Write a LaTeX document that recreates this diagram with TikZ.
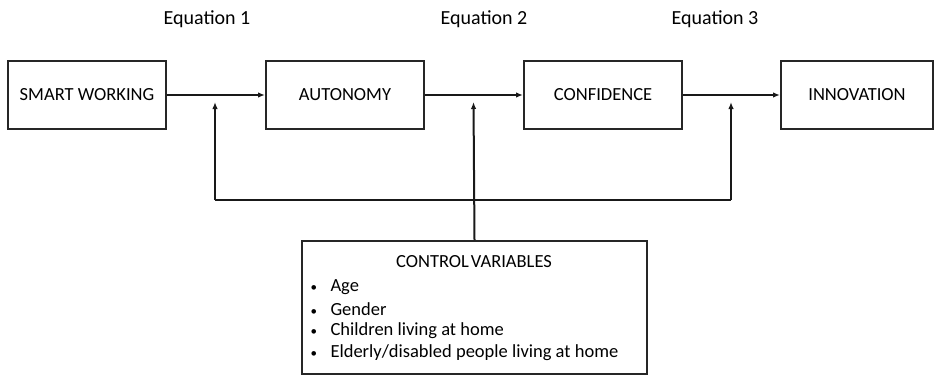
\documentclass[tikz,border=0pt]{standalone}
\usepackage{fontspec}
\setmainfont{Carlito}
\usetikzlibrary{arrows.meta}
\tikzset{
  box/.style={draw=black!85, line width=2pt, minimum width=158pt, minimum height=68pt, inner sep=0pt, font=\fontsize{18.5}{20}\selectfont, anchor=north west},
  conn/.style={draw=black!90, line width=2pt},
  arr/.style={conn, -{Latex[length=7pt,width=5.5pt]}},
  eq/.style={font=\fontsize{20}{22}\selectfont},
  lst/.style={font=\fontsize{18.5}{22}\selectfont, anchor=west}
}
\newcommand{\smbul}{\makebox[12pt][l]{\fontsize{13}{13}\selectfont\textbullet}\hspace{8pt}}
\begin{document}
\begin{tikzpicture}[x=1pt,y=-1pt]
\useasboundingbox (0,0) rectangle (934,375);
\node[box] (sw) at (7,60) {SMART WORKING};
\node[box] (au) at (265,60) {AUTONOMY};
\node[box] (cf) at (523,60) {CONFIDENCE};
\node[box, minimum width=152pt] (in) at (780,60) {INNOVATION};
\node[eq] (e1) at (207,19) {Equation 1};
\node[eq] (e2) at (484,19) {Equation 2};
\node[eq] (e3) at (715,19) {Equation 3};
\node[draw=black!85, line width=2pt, minimum width=345pt, minimum height=133pt, inner sep=0pt, anchor=north west] (ctl) at (301,240) {};
\node[font=\fontsize{18.5}{20}\selectfont] (ct) at (474,262) {CONTROL\hspace{2pt}VARIABLES};
\node[lst] (b1) at (307,287) {\smbul Age};
\node[lst] (b2) at (307,309) {\smbul Gender};
\node[lst] (b3) at (307,331) {\smbul Children living at home};
\node[lst] (b4) at (307,353) {\smbul Elderly/disabled people living at home};
\coordinate (t1) at (215,102);
\coordinate (t2) at (473.5,102);
\coordinate (t3) at (731,102);
\coordinate (h1) at (215,200);
\coordinate (h3) at (731,200);
\draw[arr] (sw.east) -- (au.west);
\draw[arr] (au.east) -- (cf.west);
\draw[arr] (cf.east) -- (in.west);
\draw[conn] (h1) -- (h3);
\draw[arr] (ctl.north) -- (t2);
\draw[arr] (h1) -- (t1);
\draw[arr] (h3) -- (t3);
\end{tikzpicture}
\end{document}
